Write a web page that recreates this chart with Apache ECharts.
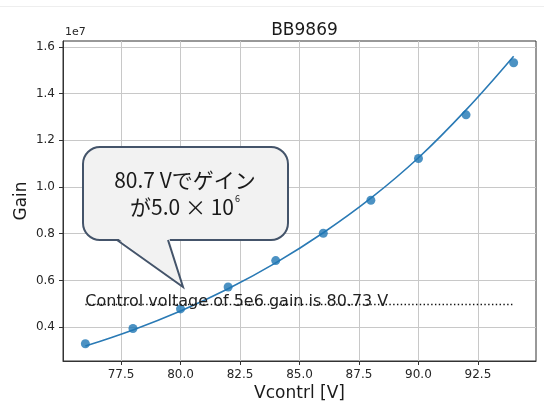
<!DOCTYPE html>
<html>
<head>
<meta charset="utf-8">
<script src="https://cdn.jsdelivr.net/npm/echarts@6/dist/echarts.min.js"></script>
<style>
html,body{margin:0;padding:0;background:#fff;}
#chart{width:544px;height:414px;}
</style>
</head>
<body>
<div id="chart"></div>
<script>
// ---- data ----
var voltages = [76, 78, 80, 82, 84, 86, 88, 90, 92, 94];
var gainMeasured = [3.29e6, 3.94e6, 4.78e6, 5.72e6, 6.85e6, 8.02e6, 9.43e6, 11.22e6, 13.09e6, 15.32e6];
var gainFit = [3.19e6, 3.88e6, 4.69e6, 5.64e6, 6.75e6, 8.04e6, 9.52e6, 11.25e6, 13.30e6, 15.60e6];
var xTicks = [77.5, 80.0, 82.5, 85.0, 87.5, 90.0, 92.5];
var yTicks = [4e6, 6e6, 8e6, 10e6, 12e6, 14e6, 16e6];
var targetGain = 5e6;
var refLineX = [76, 94];
var chartTitle = 'BB9869';
var xName = 'Vcontrl [V]';
var yName = 'Gain';
var noteText = 'Control voltage of 5e6 gain is 80.73 V';

var measuredPts = voltages.map(function (v, i) { return [v, gainMeasured[i]]; });
var fitPts = voltages.map(function (v, i) { return [v, gainFit[i]]; });

var FONT = 'DejaVu Sans';
var chart = echarts.init(document.getElementById('chart'), null, {renderer: 'canvas'});

var option = {
  animation: false,
  backgroundColor: '#ffffff',
  textStyle: {fontFamily: FONT},
  title: {
    text: chartTitle, left: 299.5, top: 17, textAlign: 'center',
    textStyle: {fontFamily: FONT, fontSize: 17, fontWeight: 'normal', color: '#1a1a1a'}
  },
  grid: {left: 63, right: 8, top: 41, bottom: 53, show: true, borderColor: '#333', borderWidth: 1, backgroundColor: 'transparent'},
  xAxis: {
    type: 'value', min: 75.06, max: 94.94,
    name: xName, nameLocation: 'middle', nameGap: 24, nameMoveOverlap: false,
    nameTextStyle: {fontFamily: FONT, fontSize: 17, color: '#1a1a1a'},
    axisLine: {show: true, lineStyle: {color: '#333', width: 1}},
    axisTick: {show: true, length: 4, customValues: xTicks, lineStyle: {color: '#333'}},
    axisLabel: {customValues: xTicks, margin: 8, fontSize: 12, color: '#262626', fontFamily: FONT,
      formatter: function (v) { return v.toFixed(1); }},
    splitLine: {show: true, lineStyle: {color: '#c8c8c8', width: 1}}
  },
  yAxis: {
    type: 'value', min: 2.55e6, max: 16.25e6,
    name: yName, nameLocation: 'middle', nameGap: 33, nameRotate: 90, nameMoveOverlap: false,
    nameTextStyle: {fontFamily: FONT, fontSize: 17, color: '#1a1a1a'},
    axisLine: {show: true, lineStyle: {color: '#333', width: 1}},
    axisTick: {show: true, length: 4, customValues: yTicks, lineStyle: {color: '#333'}},
    axisLabel: {customValues: yTicks, margin: 8, fontSize: 12, color: '#262626', fontFamily: FONT,
      formatter: function (v) { return (v / 1e7).toFixed(1); }},
    splitLine: {show: true, lineStyle: {color: '#c8c8c8', width: 1}}
  },
  series: [
    {
      type: 'line', data: fitPts, smooth: 0.4, showSymbol: false, symbol: 'none',
      lineStyle: {color: '#2a7ab5', width: 1.6}, z: 2,
      markLine: {
        silent: true, symbol: ['none', 'none'],
        lineStyle: {color: '#111', width: 1.4, type: [1.4, 2.4]},
        label: {show: true, position: 'insideStartTop', distance: [0, -6], formatter: noteText,
          fontFamily: FONT, fontSize: 16, color: '#222'},
        data: [[{coord: [refLineX[0], targetGain]}, {coord: [refLineX[1], targetGain]}]]
      }
    },
    {
      type: 'scatter', data: measuredPts, symbol: 'circle', symbolSize: 9,
      itemStyle: {color: '#1f77b4'}, z: 3
    }
  ],
  graphic: [
    {type: 'line', shape: {x1: 0, y1: 6.5, x2: 544, y2: 6.5}, style: {stroke: '#eeeeee', lineWidth: 1}, silent: true},
    {type: 'text', x: 65, y: 27, style: {text: '1e7', font: '11px "DejaVu Sans"', fill: '#262626'}},
    {
      type: 'rect', z: 100,
      shape: {x: 83, y: 147, width: 205, height: 93, r: 17},
      style: {fill: '#f2f2f2', stroke: '#44546a', lineWidth: 2}
    },
    {
      type: 'polygon', z: 101,
      shape: {points: [[116, 237], [183, 287], [169, 237]]},
      style: {fill: '#f2f2f2', stroke: null}
    },
    {
      type: 'polyline', z: 102,
      shape: {points: [[117, 240], [183, 287], [168, 240]]},
      style: {fill: null, stroke: '#44546a', lineWidth: 2}
    },
    {
      type: 'text', z: 103, x: 185, y: 194,
      style: {
        text: '{a|80.7 Vでゲイン}\n{a|が5.0 × 10}{s|6}',
        align: 'center', verticalAlign: 'middle',
        rich: {
          a: {fontFamily: '"Noto Sans CJK JP"', fontSize: 21, lineHeight: 27, fill: '#1a1a1a'},
          s: {fontFamily: '"Noto Sans CJK JP"', fontSize: 9, lineHeight: 27, verticalAlign: 'top', fill: '#1a1a1a', padding: [0, 0, 12, 1]}
        }
      }
    }
  ]
};
chart.setOption(option);
</script>
</body>
</html>
